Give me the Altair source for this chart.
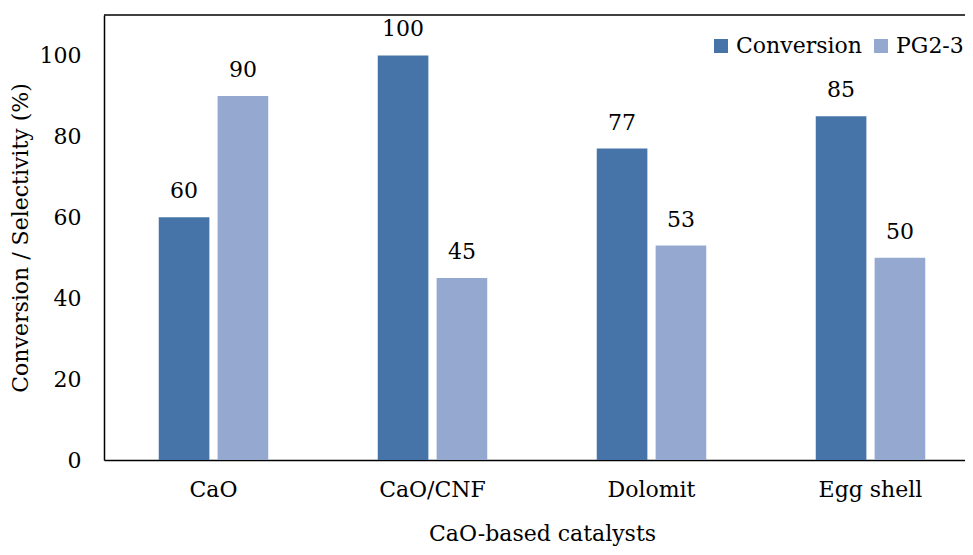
import altair as alt
import pandas as pd

categories = ["CaO", "CaO/CNF", "Dolomit", "Egg shell"]
conversion = [60, 100, 77, 85]
pg23 = [90, 45, 53, 50]
series = ["Conversion", "PG2-3"]
colors = ["#4674A8", "#95A9D0"]

rows = []
for c, v1, v2 in zip(categories, conversion, pg23):
    rows.append({"cat": c, "series": series[0], "value": v1})
    rows.append({"cat": c, "series": series[1], "value": v2})
df = pd.DataFrame(rows)

FONT = "DejaVu Serif"
FS = 22

x = alt.X("cat:N", sort=categories, title="CaO-based catalysts",
          scale=alt.Scale(paddingInner=0.5, paddingOuter=0.25, range=[0, 876]),
          axis=alt.Axis(labelAngle=0, ticks=False, labelPadding=19, titlePadding=23,
                        domainColor="black", domainWidth=1.5))
xo = alt.XOffset("series:N", sort=series, scale=alt.Scale(paddingInner=0.14))
y = alt.Y("value:Q", title="Conversion / Selectivity (%)",
          scale=alt.Scale(domain=[0, 110], nice=False),
          axis=alt.Axis(values=[0, 20, 40, 60, 80, 100], grid=False, ticks=False,
                        labelPadding=23, titlePadding=7, domainColor="black", domainWidth=1.5))

base = alt.Chart(df)
bars = base.mark_bar().encode(
    x=x, xOffset=xo, y=y,
    color=alt.Color("series:N", sort=series,
                    scale=alt.Scale(domain=series, range=colors),
                    legend=alt.Legend(title=None, orient="none", direction="horizontal",
                                      legendX=606, legendY=20, symbolType="square",
                                      symbolSize=196, symbolStrokeWidth=0, labelOffset=4,
                                      columnPadding=8, labelFontSize=FS, labelFont=FONT,
                                      labelColor="black", padding=0)),
)
labels = base.mark_text(baseline="alphabetic", dy=-19, fontSize=FS, font=FONT, color="black").encode(
    x=alt.X("cat:N", sort=categories), xOffset=xo, y="value:Q", text="value:Q")

top = alt.Chart(pd.DataFrame({"k": [0]})).mark_rule(color="black", strokeWidth=1.5).encode(
    y=alt.value(0), x=alt.value(0), x2=alt.value(861))

chart = (bars + labels + top).properties(
    width=861, height=445,
    autosize=alt.AutoSizeParams(type="none"),
    padding={"top": 7, "left": 96, "right": 0, "bottom": 87}
).configure_view(strokeWidth=0).configure_axis(
    labelFont=FONT, titleFont=FONT, labelFontSize=FS, titleFontSize=FS,
    labelColor="black", titleColor="black", titleFontWeight="normal"
)

chart.save("out.html", embed_options={"renderer": "svg", "actions": False})
